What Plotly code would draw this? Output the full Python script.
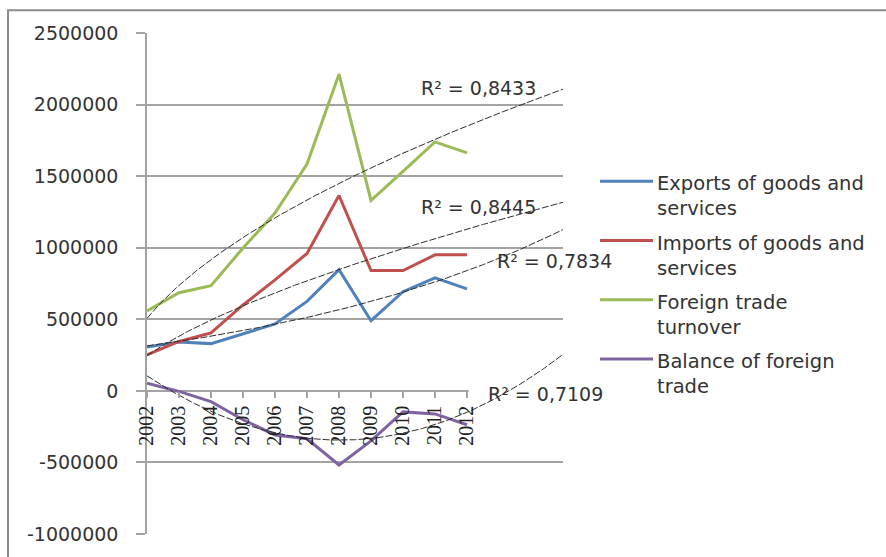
import numpy as np
import plotly.graph_objects as go

# ---- data -------------------------------------------------------------
years = [2002, 2003, 2004, 2005, 2006, 2007, 2008, 2009, 2010, 2011, 2012]
year_labels = [str(y) for y in years]

exports = [306000, 341000, 330000, 398000, 467000, 625000, 847000, 490000, 693000, 789000, 713000]
imports = [252000, 345000, 405000, 600000, 775000, 960000, 1365000, 840000, 840000, 950000, 950000]
turnover = [558000, 686000, 735000, 998000, 1242000, 1585000, 2212000, 1330000, 1533000, 1739000, 1663000]
balance = [54000, -4000, -75000, -202000, -308000, -335000, -518000, -350000, -147000, -161000, -237000]

y_ticks = [-1000000, -500000, 0, 500000, 1000000, 1500000, 2000000, 2500000]
y_tick_labels = ["-1000000", "-500000", "0", "500000", "1000000", "1500000", "2000000", "2500000"]

series_names = [
    "Exports of goods and<br>services",
    "Imports of goods and<br>services",
    "Foreign trade<br>turnover",
    "Balance of foreign<br>trade",
]
series_colors = ["#4F81BD", "#C0504D", "#9BBB59", "#8064A2"]

r2_labels = ["R² = 0,7834", "R² = 0,8445", "R² = 0,8433", "R² = 0,7109"]
forecast_periods = 3

# ---- figure geometry ---------------------------------------------------
W, H = 886, 557
ML, MR, MT, MB = 147, 323, 33, 17
PW, PH = W - ML - MR, H - MT - MB


def px_x(px):
    return (px - ML) / PW


def px_y(py):
    return (H - MB - py) / PH


# ---- trendlines (Excel-style fits on period index 1..n) ----------------
n = len(years)
idx = np.arange(1, n + 1, dtype=float)
xf = np.linspace(1, n + forecast_periods, 300)
x_years = years[0] - 1 + xf


def power_fit(y):
    b, lna = np.polyfit(np.log(idx), np.log(np.asarray(y, float)), 1)
    return np.exp(lna) * xf ** b


def exp_fit(y):
    c, lna = np.polyfit(idx, np.log(np.asarray(y, float)), 1)
    return np.exp(lna) * np.exp(c * xf)


def poly2_fit(y):
    return np.polyval(np.polyfit(idx, np.asarray(y, float), 2), xf)


trends = [exp_fit(exports), power_fit(imports), power_fit(turnover), poly2_fit(balance)]

fig = go.Figure()

for name, vals, col in zip(series_names, [exports, imports, turnover, balance], series_colors):
    fig.add_trace(go.Scatter(
        x=years, y=vals, mode="lines", name=name,
        line=dict(color=col, width=3), showlegend=False,
    ))

for tr in trends:
    fig.add_trace(go.Scatter(
        x=x_years, y=tr, mode="lines", showlegend=False,
        line=dict(color="#2e2e2e", width=1, dash="7px,2px"),
    ))

sans = "DejaVu Sans"
serif = "Liberation Serif"
text_col = "#333333"
grid_col = "#a3a3a3"

fig.update_layout(
    width=W, height=H,
    margin=dict(l=ML, r=MR, t=MT, b=MB, pad=0),
    paper_bgcolor="white", plot_bgcolor="white",
    showlegend=False,
    xaxis=dict(
        range=[2002, 2002 + n - 1 + forecast_periods],
        tickmode="array", tickvals=years, ticktext=year_labels,
        tickangle=-90, anchor="free", position=1e6 / 3.5e6,
        showgrid=False, zeroline=False, showline=False,
        ticks="outside", ticklen=6, tickcolor=grid_col, tickwidth=1.5,
        tickfont=dict(family=serif, size=20, color="#222222"),
    ),
    yaxis=dict(
        range=[-1e6, 2.5e6], tickmode="array", tickvals=y_ticks, ticktext=y_tick_labels,
        showgrid=True, gridcolor=grid_col, gridwidth=1.5,
        zeroline=False, showline=True, linecolor=grid_col, linewidth=1.5,
        ticks="outside", ticklen=9, tickcolor=grid_col, tickwidth=1.5,
        ticklabelstandoff=14,
        tickfont=dict(family=sans, size=19, color=text_col),
    ),
)

shapes = []
# outer chart border
shapes.append(dict(type="rect", xref="paper", yref="paper",
                   x0=px_x(8), x1=px_x(900), y0=px_y(575), y1=px_y(10),
                   line=dict(color="#8c8c8c", width=2), layer="above"))
# the zero gridline stops at the last category, leaving the forecast part blank
shapes.append(dict(type="rect", xref="x", yref="y",
                   x0=years[-1] + 0.05, x1=years[-1] + forecast_periods + 0.5,
                   y0=-14000, y1=14000, fillcolor="white", line=dict(width=0),
                   layer="between"))

annotations = []
# legend
leg_line_y = [183, 243, 303, 363]
for name, col, ly in zip(series_names, series_colors, leg_line_y):
    shapes.append(dict(type="line", xref="paper", yref="paper",
                       x0=px_x(600), x1=px_x(653), y0=px_y(ly), y1=px_y(ly),
                       line=dict(color=col, width=3)))
    annotations.append(dict(xref="paper", yref="paper", x=px_x(655), y=px_y(ly - 11),
                            xanchor="left", yanchor="top", align="left", showarrow=False,
                            text=name, font=dict(family=sans, size=19.5, color=text_col)))

# R² labels next to the trendlines
r2_pos = [(2014.72, 910000), (2012.35, 1287000), (2012.35, 2115000), (2014.46, -22000)]
for lbl, (lx, ly) in zip(r2_labels, r2_pos):
    annotations.append(dict(xref="x", yref="y", x=lx, y=ly, xanchor="center", yanchor="middle",
                            showarrow=False, text=lbl,
                            font=dict(family=sans, size=19, color=text_col)))

fig.update_layout(shapes=shapes, annotations=annotations)

fig.write_html("out.html")
